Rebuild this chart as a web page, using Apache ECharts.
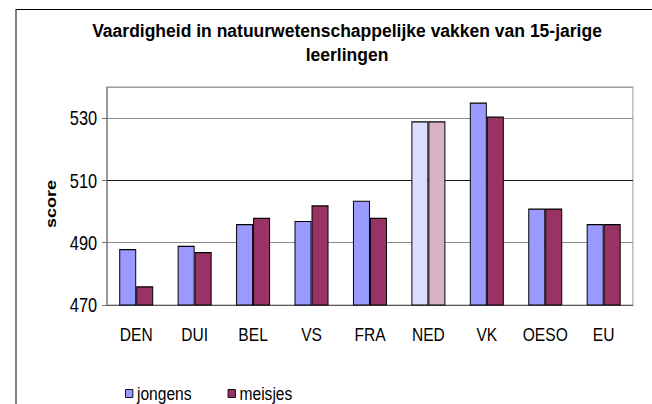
<!DOCTYPE html>
<html>
<head>
<meta charset="utf-8">
<script src="https://cdn.jsdelivr.net/npm/echarts@6/dist/echarts.min.js"></script>
<style>
  html, body { margin: 0; padding: 0; background: #fff; overflow: hidden; }
  /* het origineel is horizontaal samengedrukt: teken breder en schaal terug */
  #chart { width: 795px; height: 404px; transform: scaleX(0.82); transform-origin: 0 0; }
</style>
</head>
<body>
<div id="chart"></div>
<script>
const categories = ['DEN', 'DUI', 'BEL', 'VS', 'FRA', 'NED', 'VK', 'OESO', 'EU'];
const jongens = [488, 489, 496, 497, 503.5, 529, 535, 501, 496];
const meisjes = [476, 487, 498, 502, 498, 529, 530.5, 501, 496];
const yTicks = [470, 490, 510, 530];
const titleText = 'Vaardigheid in natuurwetenschappelijke vakken van 15-jarige\nleerlingen';
const yName = 'score';

const sx = 0.82;
const font = "'Liberation Sans', Arial, sans-serif";

// NED staat in lichtere kleuren
const highlight = 'NED';
const colJ = '#9999ff', colJLight = '#dcdcfc';
const colM = '#993366', colMLight = '#d8b1c5';

const chart = echarts.init(document.getElementById('chart'), null, { renderer: 'svg' });

chart.setOption({
  animation: false,
  graphic: [{
    type: 'rect',
    shape: { x: 16 / sx, y: 9.5, width: 900, height: 500 },
    style: { fill: 'none', stroke: '#000', lineWidth: 1.2 },
    silent: true
  }, {
    // titel is niet samengedrukt, dus de schaal hier weer opheffen
    type: 'text',
    x: 347 / sx,
    y: 43,
    scaleX: 1 / sx,
    silent: true,
    style: {
      text: titleText,
      fontFamily: font, fontWeight: 'bold', fontSize: 17.5, lineHeight: 25,
      fill: '#000', align: 'center', verticalAlign: 'middle'
    }
  }, {
    // asnaam, gedraaid
    type: 'text',
    x: 51 / sx,
    y: 204,
    rotation: Math.PI / 2,
    silent: true,
    style: {
      text: yName,
      fontFamily: font, fontWeight: 'bold', fontSize: 18,
      fill: '#000', align: 'center', verticalAlign: 'middle'
    }
  }],
  legend: {
    left: 121 / sx,
    top: 379,
    itemWidth: 9,
    itemHeight: 8,
    itemGap: 44,
    icon: 'rect',
    itemStyle: { borderColor: '#000', borderWidth: 1 },
    textStyle: { fontFamily: font, fontSize: 19, color: '#000' },
    data: ['jongens', 'meisjes']
  },
  grid: {
    left: 107 / sx, right: 19 / sx, top: 87, bottom: 99,
    show: true, borderColor: '#999', borderWidth: 1.2
  },
  xAxis: {
    type: 'category',
    data: categories,
    axisLine: { lineStyle: { color: '#555' } },
    axisTick: { length: 5, lineStyle: { color: '#555', width: 1.2 } },
    axisLabel: { interval: 0, margin: 20, fontFamily: font, fontSize: 19, color: '#000' }
  },
  yAxis: {
    type: 'value',
    min: 470,
    max: 540,
    interval: 20,
    axisLine: { show: true, lineStyle: { color: '#666', width: 1.2 } },
    axisTick: { show: true, length: 6, lineStyle: { color: '#666' } },
    axisLabel: {
      margin: 12, fontFamily: font, fontSize: 20, color: '#000', showMaxLabel: false,
      formatter: v => yTicks.includes(v) ? String(v) : ''
    },
    splitLine: { lineStyle: { color: ['#808080', '#808080', '#000', '#808080', '#999'] } }
  },
  series: [{
    name: 'jongens',
    type: 'bar',
    barWidth: 17 / sx,
    barGap: '0%',
    itemStyle: { color: colJ, borderColor: '#000', borderWidth: 1.2 },
    data: jongens.map((v, i) => categories[i] === highlight ? { value: v, itemStyle: { color: colJLight } } : v)
  }, {
    name: 'meisjes',
    type: 'bar',
    barWidth: 17 / sx,
    barGap: '0%',
    itemStyle: { color: colM, borderColor: '#000', borderWidth: 1.2 },
    data: meisjes.map((v, i) => categories[i] === highlight ? { value: v, itemStyle: { color: colMLight } } : v)
  }]
});
</script>
</body>
</html>
